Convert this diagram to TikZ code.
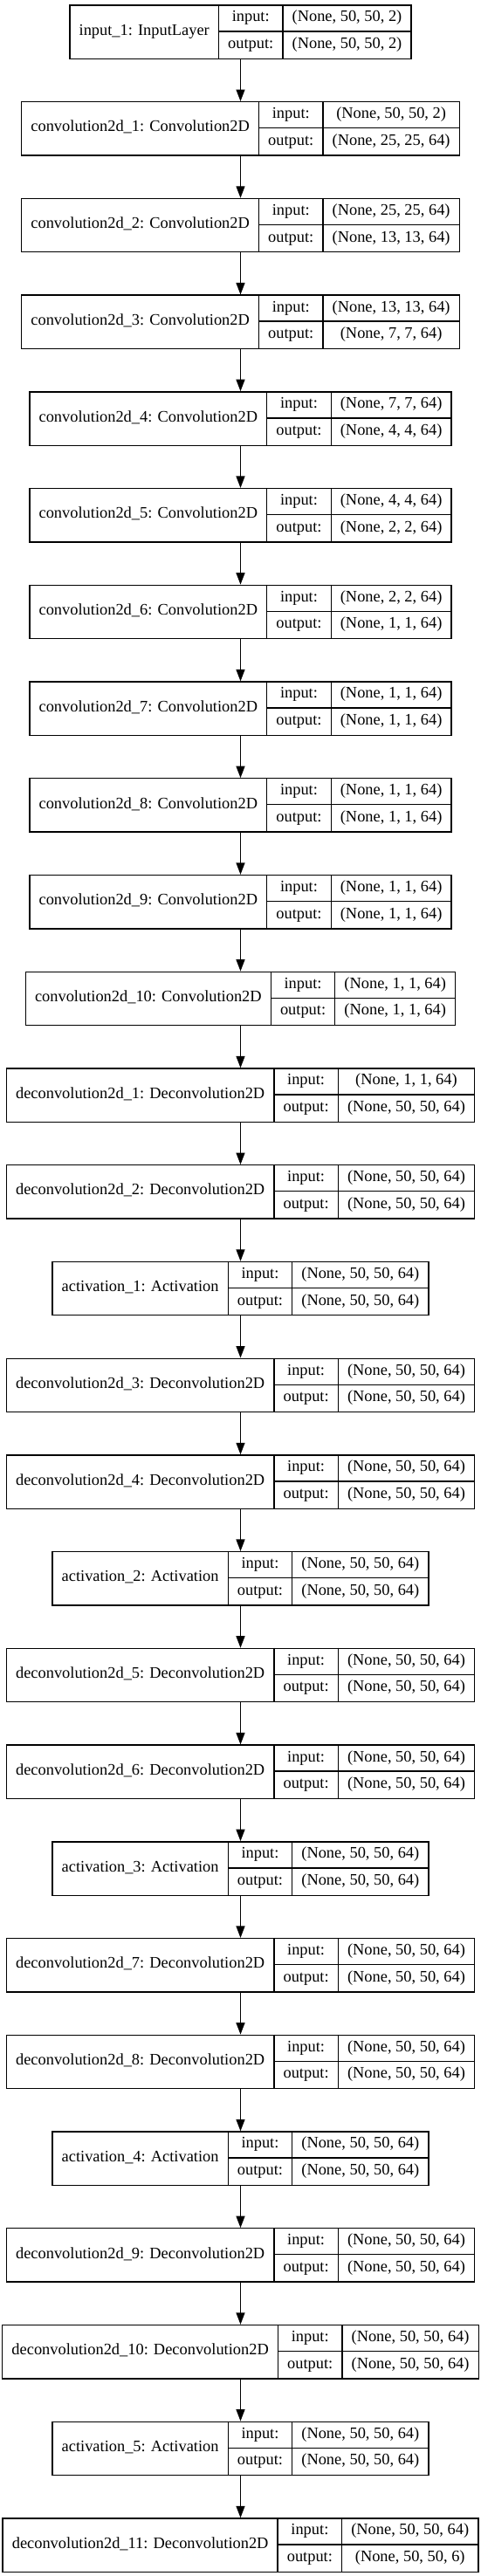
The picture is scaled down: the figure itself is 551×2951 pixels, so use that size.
\documentclass[tikz,border=0pt]{standalone}
\usepackage{fontspec}
\setmainfont{Liberation Serif}
\usetikzlibrary{arrows.meta}
\newcommand{\kfont}{\fontsize{18.4}{22}\selectfont}
\newdimen\kwa \newdimen\kwb \newdimen\kwc \newdimen\kwd
\tikzset{
  boxline/.style={draw=black, line width=1.33pt},
  celltext/.style={font=\kfont, inner sep=0pt, text height=12.5pt, text depth=4pt, anchor=center},
  flow/.style={-{Triangle[length=13.5pt,width=10pt]}, line width=1.33pt},
}
% measuring pass (outside the picture)
\newcommand{\kmeasure}[5]{%
  \setbox0=\hbox{\kfont #3}\kwa=\wd0 \advance\kwa by 21.33pt
  \setbox0=\hbox{\kfont output:}\kwb=\wd0 \advance\kwb by 21.33pt
  \setbox0=\hbox{\kfont #4}\kwc=\wd0
  \setbox0=\hbox{\kfont #5}\kwd=\wd0
  \ifdim\kwd>\kwc \kwc=\kwd\fi
  \advance\kwc by 21.33pt
  \expandafter\xdef\csname kwa@#1\endcsname{\the\kwa}%
  \expandafter\xdef\csname kwb@#1\endcsname{\the\kwb}%
  \expandafter\xdef\csname kwc@#1\endcsname{\the\kwc}%
}
% drawing pass
\newcommand{\klayer}[5]{%
  \pgfmathsetmacro{\kA}{\csname kwa@#1\endcsname}%
  \pgfmathsetmacro{\kBw}{\csname kwb@#1\endcsname}%
  \pgfmathsetmacro{\kCw}{\csname kwc@#1\endcsname}%
  \pgfmathsetmacro{\kW}{\kA+\kBw+\kCw}%
  \pgfmathsetmacro{\kL}{275.5-\kW/2}%
  \pgfmathsetmacro{\kT}{2951-5.33-#2*110.73}%
  \pgfmathsetmacro{\kB}{\kT-61.33}%
  \pgfmathsetmacro{\kM}{\kT-30.67}%
  \pgfmathsetmacro{\kXa}{\kL+\kA}%
  \pgfmathsetmacro{\kXb}{\kXa+\kBw}%
  \pgfmathsetmacro{\kR}{\kL+\kW}%
  \pgfmathsetmacro{\kCa}{(\kL+\kXa)/2}%
  \pgfmathsetmacro{\kCb}{(\kXa+\kXb)/2}%
  \pgfmathsetmacro{\kCc}{(\kXb+\kR)/2}%
  \pgfmathsetmacro{\kYm}{(\kT+\kB)/2}%
  \pgfmathsetmacro{\kYu}{\kT-15.33}%
  \pgfmathsetmacro{\kYl}{\kB+15.33}%
  \node[boxline, minimum width=\kW pt, minimum height=61.33pt, inner sep=0pt, anchor=north] (#1) at (275.5,\kT) {};
  \draw[boxline] (\kXa,\kT) -- (\kXa,\kB) (\kXb,\kT) -- (\kXb,\kB) (\kXa,\kM) -- (\kR,\kM);
  \node[celltext] (#1-name) at (\kCa,\kYm) {#3};
  \node[celltext] (#1-inl) at (\kCb,\kYu) {input:};
  \node[celltext] (#1-outl) at (\kCb,\kYl) {output:};
  \node[celltext] (#1-in) at (\kCc,\kYu) {#4};
  \node[celltext] (#1-out) at (\kCc,\kYl) {#5};
}
\newcommand{\kall}{%
\kdo{n0}{0}{input\_1: InputLayer}{(None, 50, 50, 2)}{(None, 50, 50, 2)}%
\kdo{n1}{1}{convolution2d\_1: Convolution2D}{(None, 50, 50, 2)}{(None, 25, 25, 64)}%
\kdo{n2}{2}{convolution2d\_2: Convolution2D}{(None, 25, 25, 64)}{(None, 13, 13, 64)}%
\kdo{n3}{3}{convolution2d\_3: Convolution2D}{(None, 13, 13, 64)}{(None, 7, 7, 64)}%
\kdo{n4}{4}{convolution2d\_4: Convolution2D}{(None, 7, 7, 64)}{(None, 4, 4, 64)}%
\kdo{n5}{5}{convolution2d\_5: Convolution2D}{(None, 4, 4, 64)}{(None, 2, 2, 64)}%
\kdo{n6}{6}{convolution2d\_6: Convolution2D}{(None, 2, 2, 64)}{(None, 1, 1, 64)}%
\kdo{n7}{7}{convolution2d\_7: Convolution2D}{(None, 1, 1, 64)}{(None, 1, 1, 64)}%
\kdo{n8}{8}{convolution2d\_8: Convolution2D}{(None, 1, 1, 64)}{(None, 1, 1, 64)}%
\kdo{n9}{9}{convolution2d\_9: Convolution2D}{(None, 1, 1, 64)}{(None, 1, 1, 64)}%
\kdo{n10}{10}{convolution2d\_10: Convolution2D}{(None, 1, 1, 64)}{(None, 1, 1, 64)}%
\kdo{n11}{11}{deconvolution2d\_1: Deconvolution2D}{(None, 1, 1, 64)}{(None, 50, 50, 64)}%
\kdo{n12}{12}{deconvolution2d\_2: Deconvolution2D}{(None, 50, 50, 64)}{(None, 50, 50, 64)}%
\kdo{n13}{13}{activation\_1: Activation}{(None, 50, 50, 64)}{(None, 50, 50, 64)}%
\kdo{n14}{14}{deconvolution2d\_3: Deconvolution2D}{(None, 50, 50, 64)}{(None, 50, 50, 64)}%
\kdo{n15}{15}{deconvolution2d\_4: Deconvolution2D}{(None, 50, 50, 64)}{(None, 50, 50, 64)}%
\kdo{n16}{16}{activation\_2: Activation}{(None, 50, 50, 64)}{(None, 50, 50, 64)}%
\kdo{n17}{17}{deconvolution2d\_5: Deconvolution2D}{(None, 50, 50, 64)}{(None, 50, 50, 64)}%
\kdo{n18}{18}{deconvolution2d\_6: Deconvolution2D}{(None, 50, 50, 64)}{(None, 50, 50, 64)}%
\kdo{n19}{19}{activation\_3: Activation}{(None, 50, 50, 64)}{(None, 50, 50, 64)}%
\kdo{n20}{20}{deconvolution2d\_7: Deconvolution2D}{(None, 50, 50, 64)}{(None, 50, 50, 64)}%
\kdo{n21}{21}{deconvolution2d\_8: Deconvolution2D}{(None, 50, 50, 64)}{(None, 50, 50, 64)}%
\kdo{n22}{22}{activation\_4: Activation}{(None, 50, 50, 64)}{(None, 50, 50, 64)}%
\kdo{n23}{23}{deconvolution2d\_9: Deconvolution2D}{(None, 50, 50, 64)}{(None, 50, 50, 64)}%
\kdo{n24}{24}{deconvolution2d\_10: Deconvolution2D}{(None, 50, 50, 64)}{(None, 50, 50, 64)}%
\kdo{n25}{25}{activation\_5: Activation}{(None, 50, 50, 64)}{(None, 50, 50, 64)}%
\kdo{n26}{26}{deconvolution2d\_11: Deconvolution2D}{(None, 50, 50, 64)}{(None, 50, 50, 6)}%
}
\begin{document}
\let\kdo\kmeasure
\kall
\let\kdo\klayer
\begin{tikzpicture}[x=1pt,y=1pt]
\useasboundingbox (0,0) rectangle (551,2951);
\fill[white] (0,0) rectangle (551,2951);
\kall
\foreach \i in {0,...,25}{
  \pgfmathtruncatemacro{\j}{\i+1}
  \draw[flow] (n\i.south) -- (n\j.north);
}
\end{tikzpicture}
\end{document}
